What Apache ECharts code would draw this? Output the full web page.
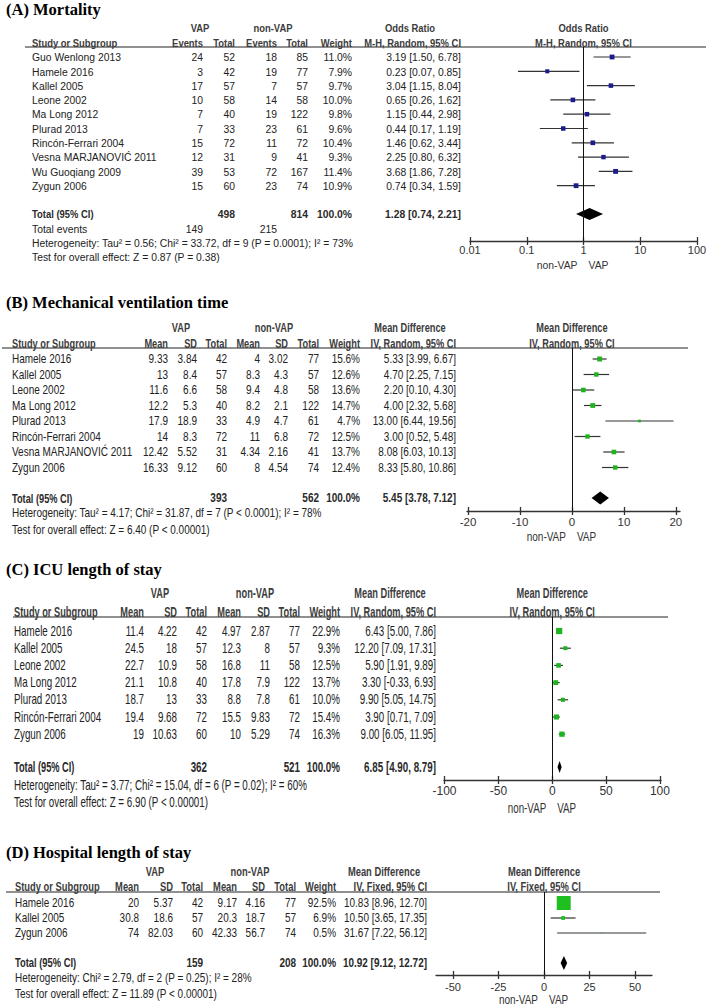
<!DOCTYPE html>
<html><head><meta charset="utf-8">
<script src="https://cdn.jsdelivr.net/npm/echarts@6.0.0/dist/echarts.min.js"></script>
<style>html,body{margin:0;padding:0;background:#fff;}#chart{width:708px;height:1007px;}</style>
</head><body><div id="chart"></div>
<script>
// ---------- (A) Mortality ----------
const studiesA = ['Guo Wenlong 2013','Hamele 2016','Kallel 2005','Leone 2002','Ma Long 2012','Plurad 2013','Rincón-Ferrari 2004','Vesna MARJANOVIĆ 2011','Wu Guoqiang 2009','Zygun 2006'];
const vapEventsA = [24,3,17,10,7,7,15,12,39,15];
const vapTotalA  = [52,42,57,58,40,33,72,31,53,60];
const nonEventsA = [18,19,7,14,19,23,11,9,72,23];
const nonTotalA  = [85,77,57,58,122,61,72,41,167,74];
const weightA = [11.0,7.9,9.7,10.0,9.8,9.6,10.4,9.3,11.4,10.9];
const orA   = [3.19,0.23,3.04,0.65,1.15,0.44,1.46,2.25,3.68,0.74];
const orLoA = [1.50,0.07,1.15,0.26,0.44,0.17,0.62,0.80,1.86,0.34];
const orHiA = [6.78,0.85,8.04,1.62,2.98,1.19,3.44,6.32,7.28,1.59];
const totalsA = [498,814];
const totalEventsA = [149,215];
const pooledA = [1.28,0.74,2.21];
const ticksA = [0.01,0.1,1,10,100];
const hetA = 'Heterogeneity: Tau² = 0.56; Chi² = 33.72, df = 9 (P = 0.0001); I² = 73%';
const testA = 'Test for overall effect: Z = 0.87 (P = 0.38)';

// ---------- (B) Mechanical ventilation time ----------
const studiesB = ['Hamele 2016','Kallel 2005','Leone 2002','Ma Long 2012','Plurad 2013','Rincón-Ferrari 2004','Vesna MARJANOVIĆ 2011','Zygun 2006'];
const vapMeanB = [9.33,13,11.6,12.2,17.9,14,12.42,16.33];
const vapSdB   = [3.84,8.4,6.6,5.3,18.9,8.3,5.52,9.12];
const vapNB    = [42,57,58,40,33,72,31,60];
const nonMeanB = [4,8.3,9.4,8.2,4.9,11,4.34,8];
const nonSdB   = [3.02,4.3,4.8,2.1,4.7,6.8,2.16,4.54];
const nonNB    = [77,57,58,122,61,72,41,74];
const weightB  = [15.6,12.6,13.6,14.7,4.7,12.5,13.7,12.4];
const mdB   = [5.33,4.70,2.20,4.00,13.00,3.00,8.08,8.33];
const mdLoB = [3.99,2.25,0.10,2.32,6.44,0.52,6.03,5.80];
const mdHiB = [6.67,7.15,4.30,5.68,19.56,5.48,10.13,10.86];
const totalsB = [393,562];
const pooledB = [5.45,3.78,7.12];
const ticksB = [-20,-10,0,10,20];
const hetB = 'Heterogeneity: Tau² = 4.17; Chi² = 31.87, df = 7 (P < 0.0001); I² = 78%';
const testB = 'Test for overall effect: Z = 6.40 (P < 0.00001)';

// ---------- (C) ICU length of stay ----------
const studiesC = ['Hamele 2016','Kallel 2005','Leone 2002','Ma Long 2012','Plurad 2013','Rincón-Ferrari 2004','Zygun 2006'];
const vapMeanC = [11.4,24.5,22.7,21.1,18.7,19.4,19];
const vapSdC   = [4.22,18,10.9,10.8,13,9.68,10.63];
const vapNC    = [42,57,58,40,33,72,60];
const nonMeanC = [4.97,12.3,16.8,17.8,8.8,15.5,10];
const nonSdC   = [2.87,8,11,7.9,7.8,9.83,5.29];
const nonNC    = [77,57,58,122,61,72,74];
const weightC  = [22.9,9.3,12.5,13.7,10.0,15.4,16.3];
const mdC   = [6.43,12.20,5.90,3.30,9.90,3.90,9.00];
const mdLoC = [5.00,7.09,1.91,-0.33,5.05,0.71,6.05];
const mdHiC = [7.86,17.31,9.89,6.93,14.75,7.09,11.95];
const totalsC = [362,521];
const pooledC = [6.85,4.90,8.79];
const ticksC = [-100,-50,0,50,100];
const hetC = 'Heterogeneity: Tau² = 3.77; Chi² = 15.04, df = 6 (P = 0.02); I² = 60%';
const testC = 'Test for overall effect: Z = 6.90 (P < 0.00001)';

// ---------- (D) Hospital length of stay ----------
const studiesD = ['Hamele 2016','Kallel 2005','Zygun 2006'];
const vapMeanD = [20,30.8,74];
const vapSdD   = [5.37,18.6,82.03];
const vapND    = [42,57,60];
const nonMeanD = [9.17,20.3,42.33];
const nonSdD   = [4.16,18.7,56.7];
const nonND    = [77,57,74];
const weightD  = [92.5,6.9,0.5];
const mdD   = [10.83,10.50,31.67];
const mdLoD = [8.96,3.65,7.22];
const mdHiD = [12.70,17.35,56.12];
const totalsD = [159,208];
const pooledD = [10.92,9.12,12.72];
const ticksD = [-50,-25,0,25,50];
const hetD = 'Heterogeneity: Chi² = 2.79, df = 2 (P = 0.25); I² = 28%';
const testD = 'Test for overall effect: Z = 11.89 (P < 0.00001)';

// ---------- panel definitions (data refs + layout) ----------
const SANS = 'Liberation Sans, Arial, sans-serif';
const SERIF = 'Liberation Serif, Times New Roman, serif';
const panels = [
  { title:'(A) Mortality', titleY:9,
    studies:studiesA, cols:[vapEventsA,vapTotalA,nonEventsA,nonTotalA], totalCols:[1,3], totals:totalsA,
    weight:weightA, est:orA, lo:orLoA, hi:orHiA, pooled:pooledA, ticks:ticksA, het:hetA, test:testA,
    events:totalEventsA,
    colHead:['Events','Total','Events','Total'], effect:'Odds Ratio', method:'M-H, Random, 95% CI',
    fs:11.5, sx:0.9, sxb:0.82, nameX:32, h1:28, h2:43, rule:[25,706,47], vapX:200, nonX:273, effX:410,
    colRight:[203,235,277,308], wRight:352, ciRight:461,
    rowY0:57, rowH:14.3, totalY:214, extraY:[229,243,257],
    axisY:241, gx:[470,697], xmin:0.01, xmax:100, log:true, zero:1, lm:3, dirY:265, axFs:11,
    k:1.45, color:'#1c1c8e', dh:6 },
  { title:'(B) Mechanical ventilation time', titleY:302,
    studies:studiesB, cols:[vapMeanB,vapSdB,vapNB,nonMeanB,nonSdB,nonNB], totalCols:[2,5], totals:totalsB,
    weight:weightB, est:mdB, lo:mdLoB, hi:mdHiB, pooled:pooledB, ticks:ticksB, het:hetB, test:testB,
    colHead:['Mean','SD','Total','Mean','SD','Total'], effect:'Mean Difference', method:'IV, Random, 95% CI',
    fs:12.5, sx:0.8, sxb:0.74, nameX:12, h1:327, h2:343, rule:[2,688,348], vapX:181, nonX:274, effX:410,
    colRight:[168,197,227,260,288,319], wRight:360, ciRight:456,
    rowY0:359, rowH:15.5, totalY:498, extraY:[513,530],
    axisY:511, gx:[467,680], xmin:-20.2, xmax:20.8, log:false, zero:0, lm:5, dirY:537, axFs:11.5,
    k:1.25, color:'#1fb41f', dh:6.5 },
  { title:'(C) ICU length of stay', titleY:569,
    studies:studiesC, cols:[vapMeanC,vapSdC,vapNC,nonMeanC,nonSdC,nonNC], totalCols:[2,5], totals:totalsC,
    weight:weightC, est:mdC, lo:mdLoC, hi:mdHiC, pooled:pooledC, ticks:ticksC, het:hetC, test:testC,
    colHead:['Mean','SD','Total','Mean','SD','Total'], effect:'Mean Difference', method:'IV, Random, 95% CI',
    fs:14, sx:0.7, sxb:0.66, nameX:14, h1:593, h2:612, rule:[13,668,617], vapX:160, nonX:255, effX:390,
    colRight:[144,177,207,241,270,300], wRight:340, ciRight:436,
    rowY0:631, rowH:17.2, totalY:767, extraY:[785,802],
    axisY:780, gx:[444,661], xmin:-100.5, xmax:101, log:false, zero:0, lm:5, dirY:808, axFs:12,
    k:1.3, color:'#1fb41f', dh:6 },
  { title:'(D) Hospital length of stay', titleY:852,
    studies:studiesD, cols:[vapMeanD,vapSdD,vapND,nonMeanD,nonSdD,nonND], totalCols:[2,5], totals:totalsD,
    weight:weightD, est:mdD, lo:mdLoD, hi:mdHiD, pooled:pooledD, ticks:ticksD, het:hetD, test:testD,
    colHead:['Mean','SD','Total','Mean','SD','Total'], effect:'Mean Difference', method:'IV, Fixed, 95% CI',
    fs:12, sx:0.83, sxb:0.78, nameX:15, h1:872, h2:887, rule:[6,660,892], vapX:155, nonX:250, effX:384,
    colRight:[139,173,203,237,265,296], wRight:336, ciRight:427,
    rowY0:903, rowH:15, totalY:963, extraY:[978,994],
    axisY:975, gx:[436,652], xmin:-59.3, xmax:59.3, log:false, zero:0, lm:6, dirY:1000, axFs:11,
    k:1.45, color:'#1fbf1f', dh:7 }
];

const BODY = '#222', HEAD = '#3c3c3c';
const graphics = [];
function txt(x, y, s, o) {
  graphics.push({ type:'text', x:x, y:y, scaleX:o.sx || 1, silent:true, z:10,
    style:{ text:s, x:0, y:0, fill:o.color || BODY, fontSize:o.fs, fontFamily:o.ff || SANS,
      fontWeight:o.fw || 'normal', textAlign:o.align || 'left', textVerticalAlign:'middle' } });
}
function ci(e, l, h) { return e.toFixed(2) + ' [' + l.toFixed(2) + ', ' + h.toFixed(2) + ']'; }
function w(o, extra) { return Object.assign({}, o, extra); }

const grids = [], xAxes = [], yAxes = [], series = [];

panels.forEach((p, pi) => {
  const B = { fs:p.fs, sx:p.sxb, fw:'bold', color:HEAD };
  const BN = { fs:p.fs, sx:p.sx, fw:'bold', color:'#2a2a2a' };
  const N = { fs:p.fs, sx:p.sx };
  txt(6, p.titleY, p.title, { fs:16.5, ff:SERIF, fw:'bold', color:'#000' });
  const zeroPx = p.log
    ? p.gx[0] + (Math.log10(p.zero) - Math.log10(p.xmin)) / (Math.log10(p.xmax) - Math.log10(p.xmin)) * (p.gx[1] - p.gx[0])
    : p.gx[0] + (p.zero - p.xmin) / (p.xmax - p.xmin) * (p.gx[1] - p.gx[0]);
  // headers
  txt(p.vapX, p.h1, 'VAP', w(B, { align:'center' }));
  txt(p.nonX, p.h1, 'non-VAP', w(B, { align:'center' }));
  txt(p.effX, p.h1, p.effect, w(B, { align:'center' }));
  txt(zeroPx, p.h1, p.effect, w(B, { align:'center' }));
  txt(p.nameX, p.h2, 'Study or Subgroup', B);
  p.colHead.forEach((h, j) => txt(p.colRight[j], p.h2, h, w(B, { align:'right' })));
  txt(p.wRight, p.h2, 'Weight', w(B, { align:'right' }));
  txt(p.ciRight, p.h2, p.method, w(B, { align:'right' }));
  txt(zeroPx, p.h2, p.method, w(B, { align:'center' }));
  graphics.push({ type:'line', silent:true, z:5, shape:{ x1:p.rule[0], y1:p.rule[2], x2:p.rule[1], y2:p.rule[2] },
    style:{ stroke:'#222', lineWidth:1.2 } });
  // study rows
  p.studies.forEach((s, i) => {
    const y = p.rowY0 + i * p.rowH;
    txt(p.nameX, y, s, N);
    p.cols.forEach((arr, j) => txt(p.colRight[j], y, String(arr[i]), w(N, { align:'right' })));
    txt(p.wRight, y, p.weight[i].toFixed(1) + '%', w(N, { align:'right' }));
    txt(p.ciRight, y, ci(p.est[i], p.lo[i], p.hi[i]), w(N, { align:'right' }));
  });
  // total row
  txt(p.nameX, p.totalY, 'Total (95% CI)', w(B, { color:'#2a2a2a' }));
  p.totalCols.forEach((c, j) => txt(p.colRight[c], p.totalY, String(p.totals[j]), w(BN, { align:'right' })));
  txt(p.wRight, p.totalY, '100.0%', w(BN, { align:'right' }));
  txt(p.ciRight, p.totalY, ci(p.pooled[0], p.pooled[1], p.pooled[2]), w(BN, { align:'right' }));
  let ei = 0;
  if (p.events) {
    txt(p.nameX, p.extraY[0], 'Total events', N);
    txt(p.colRight[0], p.extraY[0], String(p.events[0]), w(N, { align:'right' }));
    txt(p.colRight[2], p.extraY[0], String(p.events[1]), w(N, { align:'right' }));
    ei = 1;
  }
  txt(p.nameX, p.extraY[ei], p.het, N);
  txt(p.nameX, p.extraY[ei + 1], p.test, N);
  txt(zeroPx - 6, p.dirY, 'non-VAP', w(N, { align:'right', color:'#333' }));
  txt(zeroPx + 5, p.dirY, 'VAP', w(N, { color:'#333' }));

  // grid & axes
  grids.push({ left:p.gx[0], top:p.rule[2], width:p.gx[1] - p.gx[0], height:p.axisY - p.rule[2],
    containLabel:false, outerBoundsMode:'none' });
  const fmt = p.log ? (v => String(Math.pow(10, Math.round(Math.log10(v))))) : (v => String(v));
  const base = { gridIndex:pi, type:p.log ? 'log' : 'value', logBase:10, min:p.xmin, max:p.xmax, position:'bottom',
    splitLine:{ show:false }, splitArea:{ show:false } };
  xAxes.push(Object.assign({}, base, {
    axisLine:{ show:true, onZero:false, lineStyle:{ color:'#333', width:1.3 } },
    axisTick:{ show:true, inside:false, length:4, customValues:p.ticks, lineStyle:{ color:'#333', width:1.3 } },
    axisLabel:{ show:true, customValues:p.ticks, margin:p.lm, color:'#333', fontSize:p.axFs, fontFamily:SANS, formatter:fmt }
  }));
  xAxes.push(Object.assign({}, base, {
    axisLine:{ show:false, onZero:false },
    axisTick:{ show:true, inside:true, length:4, customValues:p.ticks, lineStyle:{ color:'#333', width:1.3 } },
    axisLabel:{ show:false }
  }));
  yAxes.push({ gridIndex:pi, type:'value', inverse:true, show:false,
    min:(p.rule[2] - p.rowY0) / p.rowH, max:(p.axisY - p.rowY0) / p.rowH });

  const totalIdx = (p.totalY - p.rowY0) / p.rowH;
  const k = p.k, color = p.color, dh = p.dh;
  series.push({
    type:'custom', xAxisIndex:2 * pi, yAxisIndex:pi, clip:false, silent:true, animation:false,
    encode:{ x:[0, 1, 2], y:3 },
    data:p.studies.map((s, i) => [p.est[i], p.lo[i], p.hi[i], i, p.weight[i]]),
    renderItem:function (params, api) {
      const r = api.value(3), wt = api.value(4);
      const a = api.coord([api.value(1), r]), b = api.coord([api.value(2), r]), c = api.coord([api.value(0), r]);
      const s = Math.max(1.2, k * Math.sqrt(wt));
      return { type:'group', children:[
        { type:'line', shape:{ x1:a[0], y1:a[1], x2:b[0], y2:b[1] }, style:{ stroke:'#333', lineWidth:1.2 } },
        { type:'rect', shape:{ x:c[0] - s / 2, y:c[1] - s / 2, width:s, height:s }, style:{ fill:color } }
      ]};
    },
    markLine:{ silent:true, symbol:'none', animation:false, label:{ show:false },
      lineStyle:{ color:'#111', width:1, type:'solid' }, data:[{ xAxis:p.zero }] }
  });
  series.push({
    type:'custom', xAxisIndex:2 * pi, yAxisIndex:pi, clip:false, silent:true, animation:false,
    encode:{ x:[0, 1, 2], y:3 },
    data:[[p.pooled[0], p.pooled[1], p.pooled[2], totalIdx]],
    renderItem:function (params, api) {
      const r = api.value(3);
      const c = api.coord([api.value(0), r]), a = api.coord([api.value(1), r]), b = api.coord([api.value(2), r]);
      return { type:'polygon', shape:{ points:[[a[0], c[1]], [c[0], c[1] - dh], [b[0], c[1]], [c[0], c[1] + dh]] },
        style:{ fill:'#000' } };
    }
  });
});

const chart = echarts.init(document.getElementById('chart'), null, { renderer:'svg' });
chart.setOption({
  animation:false,
  backgroundColor:'#fff',
  grid:grids, xAxis:xAxes, yAxis:yAxes, series:series,
  graphic:{ elements:graphics }
});
</script>
</body></html>
